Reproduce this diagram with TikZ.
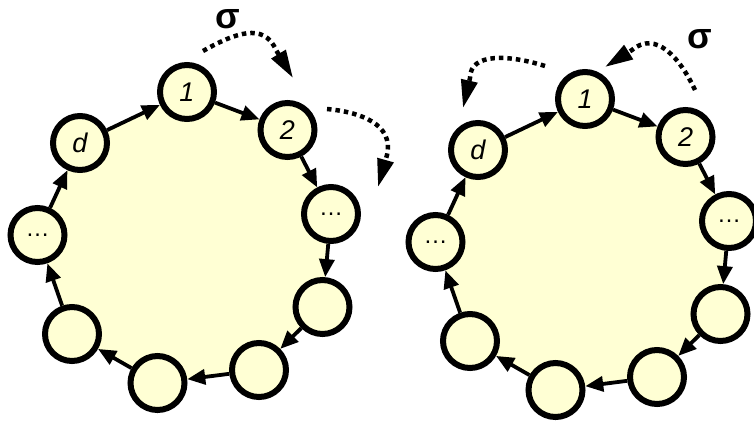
\documentclass[tikz,border=0pt]{standalone}
\usepackage{fontspec}
\setmainfont{Liberation Sans}
\usetikzlibrary{arrows.meta}
\definecolor{fillyel}{HTML}{FFFFD4}
\newcommand\drawcycle[1]{%
  \coordinate (#1a) at (187,92);
  \coordinate (#1b) at (287.5,130);
  \coordinate (#1c) at (331,214);
  \coordinate (#1d) at (322.5,307);
  \coordinate (#1e) at (259,370);
  \coordinate (#1f) at (157.5,383);
  \coordinate (#1g) at (72,334);
  \coordinate (#1h) at (37.5,235);
  \coordinate (#1i) at (80,143);
  \fill[fillyel] (#1a) -- (#1b) -- (#1c) -- (#1d) -- (#1e) -- (#1f) -- (#1g) -- (#1h) -- (#1i) -- cycle;
  \node[ring] (#1n1) at (#1a) {1};
  \node[ring] (#1n2) at (#1b) {2};
  \node[ring, font=\fontsize{24}{24}\selectfont] (#1n3) at (#1c) {…};
  \node[ring] (#1n4) at (#1d) {};
  \node[ring] (#1n5) at (#1e) {};
  \node[ring] (#1n6) at (#1f) {};
  \node[ring] (#1n7) at (#1g) {};
  \node[ring, font=\fontsize{24}{24}\selectfont] (#1n8) at (#1h) {…};
  \node[ring] (#1n9) at (#1i) {d};
  \draw[link] (#1n1) -- (#1n2);
  \draw[link] (#1n2) -- (#1n3);
  \draw[link] (#1n3) -- (#1n4);
  \draw[link] (#1n4) -- (#1n5);
  \draw[link] (#1n5) -- (#1n6);
  \draw[link] (#1n6) -- (#1n7);
  \draw[link] (#1n7) -- (#1n8);
  \draw[link] (#1n8) -- (#1n9);
  \draw[link] (#1n9) -- (#1n1);
}
\begin{document}
\begin{tikzpicture}[x=1pt,y=-1pt,
  ring/.style={circle, draw=black, line width=6pt, fill=fillyel, minimum size=54pt, inner sep=0pt, font=\fontsize{27}{27}\selectfont\itshape},
  link/.style={line width=3.8pt, -{Triangle[length=18pt,width=15pt]}},
  perm/.style={line width=4.5pt, dash pattern=on 4.5pt off 4pt, -{Triangle[length=28pt,width=16pt]}},
  sig/.style={font=\fontsize{36}{36}\selectfont\bfseries, inner sep=0pt}]
\useasboundingbox (0,0) rectangle (754,424);
\fill[white] (0,0) rectangle (754,424);
\drawcycle{L}
\begin{scope}[shift={(398,7)}]
\drawcycle{R}
\end{scope}
% left permutation arrows
\coordinate (la0) at (203,51);
\coordinate (la1) at (276,50);
\coordinate (la2) at (293,78);
\draw[perm] (la0) .. controls (235,33) and (264,22) .. (la1) -- (la2);
\coordinate (lb0) at (327,109);
\coordinate (lb1) at (387,155);
\coordinate (lb2) at (378,187);
\draw[perm] (lb0) .. controls (360,112) and (394,124) .. (lb1) -- (lb2);
\node[sig] (ls) at (228,19) {σ};
% right permutation arrows
\coordinate (ra0) at (695,90);
\coordinate (ra1) at (632,50);
\coordinate (ra2) at (605,67);
\draw[perm] (ra0) .. controls (680,58) and (656,30) .. (ra1) -- (ra2);
\coordinate (rb0) at (545,66);
\coordinate (rb1) at (470,78);
\coordinate (rb2) at (463,108);
\draw[perm] (rb0) .. controls (510,55) and (470,52) .. (rb1) -- (rb2);
\node[sig] (rs) at (700,39) {σ};
\end{tikzpicture}
\end{document}
